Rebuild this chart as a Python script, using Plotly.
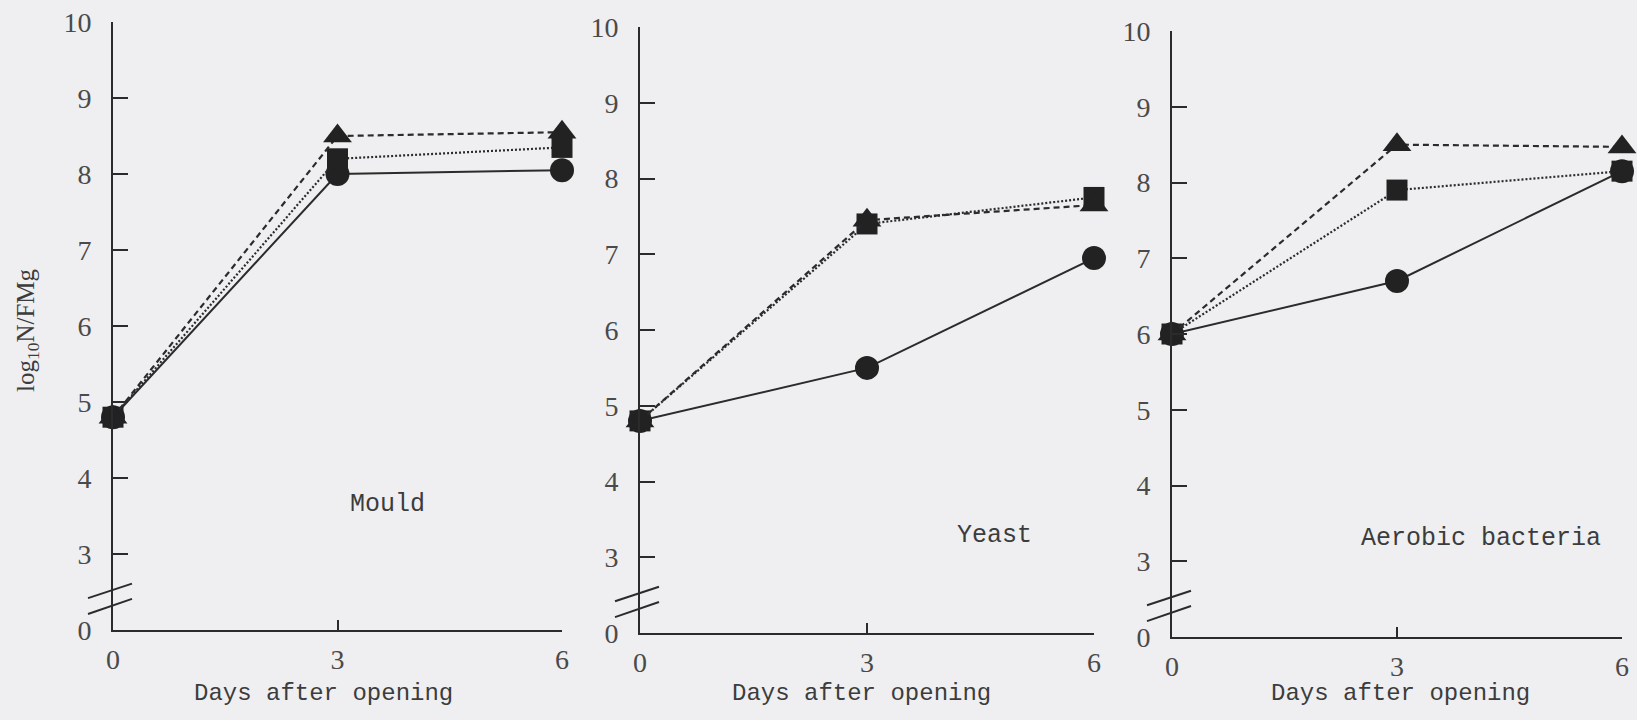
import plotly.graph_objects as go

# ---------------- data ----------------
days = [0, 3, 6]
panels = ["Mould", "Yeast", "Aerobic bacteria"]

mould_circle = [4.8, 8.0, 8.05]
mould_square = [4.8, 8.2, 8.35]
mould_triangle = [4.8, 8.5, 8.55]

yeast_circle = [4.8, 5.5, 6.95]
yeast_square = [4.8, 7.4, 7.75]
yeast_triangle = [4.8, 7.45, 7.65]

bact_circle = [6.0, 6.7, 8.15]
bact_square = [6.0, 7.9, 8.15]
bact_triangle = [6.0, 8.5, 8.47]

y_tickvals = [2, 3, 4, 5, 6, 7, 8, 9, 10]
y_ticktext = ["0", "3", "4", "5", "6", "7", "8", "9", "10"]
x_tickvals = [0, 3, 6]
x_ticktext = ["0", "3", "6"]

x_title = "Days after opening"
y_title = "log<sub>10</sub>N/FMg"

# ---------------- layout geometry (pixels) ----------------
W, H = 1637, 720
BG = "#efeff1"
INK = "#2b2b2b"
TXT = "#3c3c3c"

# plot areas: (left, right, top, bottom)
areas = [(113, 562, 22, 630), (640, 1094, 27, 633), (1172, 1622, 31, 637)]
label_pos = [(387, 505), (994, 535), (1481, 538)]
xtitle_pos = [(323, 693), (861, 693), (1400, 693)]

series = [
    (mould_circle, mould_square, mould_triangle),
    (yeast_circle, yeast_square, yeast_triangle),
    (bact_circle, bact_square, bact_triangle),
]

fig = go.Figure()
styles = [
    ("circle", "solid", 24),
    ("square", "2px,2px", 21),
    ("triangle-up", "6px,4px", 25),
]

annotations = []
shapes = []
for i, (area, data) in enumerate(zip(areas, series)):
    n = "" if i == 0 else str(i + 1)
    xa, ya = "x" + n, "y" + n
    for vals, (sym, dash, size) in zip(data, styles):
        fig.add_trace(go.Scatter(
            x=days, y=vals, xaxis=xa, yaxis=ya, mode="lines+markers",
            line=dict(color=INK, width=2 if dash == "solid" else 2.2, dash=dash),
            marker=dict(symbol=sym, size=size, color="#222222", line=dict(width=0)),
            cliponaxis=False, showlegend=False, hoverinfo="skip",
        ))
    l, r, t, b = area
    xd = [l / W, r / W]
    yd = [1 - b / H, 1 - t / H]
    axis_common = dict(showline=True, linewidth=2, linecolor=INK, showgrid=False,
                       zeroline=False, ticks="inside", tickwidth=2, tickcolor=INK,
                       automargin=False,
                       tickfont=dict(family="Liberation Serif", size=28, color="#4a4a4a"))
    fig.update_layout(**{
        "xaxis" + n: dict(domain=xd, range=[0, 6], tickvals=x_tickvals, ticktext=x_ticktext,
                          ticklen=10, anchor=ya, ticklabelstandoff=3, **axis_common),
        "yaxis" + n: dict(domain=yd, range=[2, 10], tickvals=y_tickvals, ticktext=y_ticktext,
                          ticklen=15, anchor=xa, ticklabelstandoff=14, **axis_common),
    })
    # axis break marks
    xl = (l - 25) / W
    xr = (l + 19) / W
    for y0, y1 in [(2.21, 2.41), (2.42, 2.61)]:
        shapes.append(dict(type="line", xref="paper", yref=ya, x0=xl, x1=xr, y0=y0, y1=y1,
                           line=dict(color=INK, width=2)))
    lx, ly = label_pos[i]
    annotations.append(dict(text=panels[i], xref="paper", yref="paper", x=lx / W, y=1 - ly / H,
                            showarrow=False, xanchor="center", yanchor="middle",
                            font=dict(family="Liberation Mono", size=25, color=TXT)))
    tx, ty = xtitle_pos[i]
    annotations.append(dict(text=x_title, xref="paper", yref="paper", x=tx / W, y=1 - ty / H,
                            showarrow=False, xanchor="center", yanchor="middle",
                            font=dict(family="Liberation Mono", size=24, color=TXT)))

annotations.append(dict(text=y_title, xref="paper", yref="paper", x=28 / W, y=1 - 330 / H,
                        showarrow=False, textangle=-90, xanchor="center", yanchor="middle",
                        font=dict(family="Liberation Serif", size=25, color=TXT)))

fig.update_layout(width=W, height=H,
                  margin=dict(l=0, r=0, t=0, b=0, pad=0, autoexpand=False),
                  paper_bgcolor=BG, plot_bgcolor=BG,
                  annotations=annotations, shapes=shapes)

fig.write_html("out.html")
